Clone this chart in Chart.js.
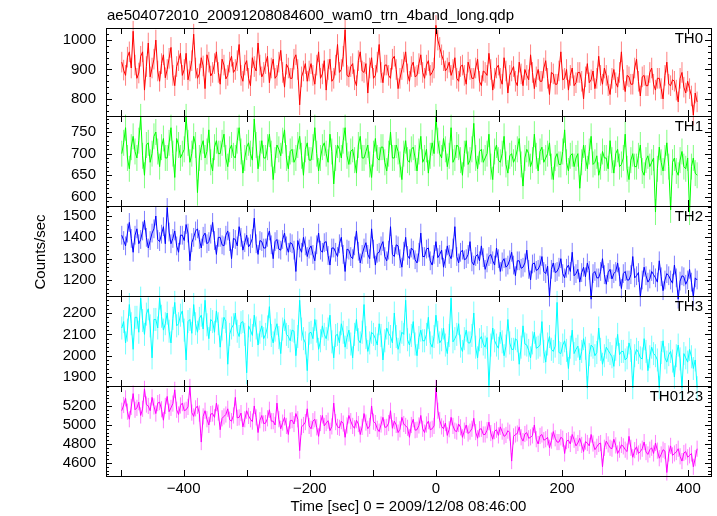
<!DOCTYPE html>
<html><head><meta charset="utf-8">
<script src="https://cdn.jsdelivr.net/npm/chart.js@4/dist/chart.umd.min.js"></script>
<style>
html,body{margin:0;padding:0;background:#fff;}
#wrap{position:relative;width:717px;height:516px;overflow:hidden;}
#wrap canvas{position:absolute;left:0;top:0;}
</style>
</head><body><div id="wrap"></div>
<script>
// ---- data (time bins: start -498 s, 3 s width) ----
const binStart = -498, binSize = 3;
const th0 = [
925,898,880,942,960,905,1030,915,870,888,945,960,830,910,990,875,905,935,1000,895,
860,920,950,872,900,938,975,880,845,910,930,955,880,900,955,865,895,930,1020,905,
870,885,940,912,835,950,925,878,890,920,960,890,850,935,915,868,880,925,945,890,
900,930,985,880,860,915,930,870,845,940,910,895,990,915,875,890,920,945,855,905,
935,870,880,925,965,890,840,918,905,870,870,935,950,900,780,875,895,920,860,895,
920,880,850,915,960,870,885,930,830,900,935,860,870,915,985,890,900,945,1035,880,
875,910,920,865,845,930,960,895,890,920,820,905,940,870,880,925,985,890,855,915,
915,880,870,935,945,900,835,870,900,925,960,885,860,910,925,875,880,920,950,890,
870,915,930,880,890,905,1050,1000,975,950,930,895,905,925,880,900,940,870,860,910,
915,880,850,925,900,870,870,905,935,860,845,895,890,880,955,900,830,870,905,915,
870,850,940,895,820,880,895,910,860,845,925,885,845,900,880,865,950,890,835,875,
900,860,860,905,930,870,815,890,885,850,850,895,960,865,870,900,830,880,905,845,
855,890,890,860,800,875,920,855,865,895,835,870,945,880,850,905,880,845,815,870,
900,855,840,890,960,865,825,880,875,850,850,905,935,860,810,875,880,845,845,890,
905,850,830,870,870,835,800,880,925,850,845,865,860,830,790,870,890,840,820,860,
835,810,745,820,790];
const th1 = [
700,725,760,690,665,715,740,705,690,730,785,695,650,720,725,680,700,740,750,705,
670,715,735,690,690,725,760,700,645,735,720,690,700,710,785,725,680,700,740,720,
610,690,715,730,690,705,755,680,660,715,730,700,700,725,745,690,670,710,720,695,
690,730,760,705,655,690,715,725,700,685,780,720,665,700,730,690,690,715,745,700,
640,685,720,710,695,730,755,690,665,705,710,680,690,720,740,695,650,710,725,685,
685,715,760,700,660,690,715,725,700,680,745,705,630,690,720,710,690,730,760,695,
675,705,710,685,655,720,740,690,690,705,720,675,645,700,735,690,685,715,715,680,
660,700,750,690,690,720,705,675,640,700,730,685,680,710,715,690,660,705,740,680,
690,710,655,695,725,700,785,730,700,690,735,710,670,695,760,680,690,720,715,685,
650,700,730,675,685,710,770,690,665,705,710,680,690,700,745,670,640,705,720,685,
680,700,740,675,655,695,700,680,690,710,735,675,625,690,710,700,670,685,745,695,
660,705,715,680,690,700,725,670,640,690,700,675,675,705,755,680,660,695,700,670,
690,700,620,680,720,690,665,705,740,675,680,695,650,670,705,690,690,665,730,685,
655,700,710,670,675,690,745,665,640,685,700,670,670,695,720,660,650,685,695,670,
680,690,565,665,715,680,660,690,725,670,570,680,690,660,650,685,705,670,665,690,
565,670,690,655,650];
const th2 = [
1410,1385,1360,1420,1470,1395,1330,1410,1440,1370,1390,1430,1480,1400,1350,1385,1420,1440,1500,1390,
1380,1415,1450,1370,1540,1425,1370,1395,1430,1360,1330,1410,1410,1385,1460,1420,1290,1375,1400,1430,
1440,1390,1350,1405,1420,1370,1380,1415,1470,1385,1320,1400,1400,1365,1360,1410,1430,1380,1300,1395,
1390,1360,1450,1400,1340,1375,1410,1355,1370,1395,1490,1370,1320,1385,1380,1350,1350,1400,1430,1365,
1300,1380,1390,1345,1340,1390,1420,1360,1330,1375,1370,1340,1240,1385,1350,1330,1400,1360,1310,1345,
1360,1320,1290,1365,1420,1340,1330,1375,1380,1315,1270,1350,1350,1330,1310,1370,1400,1320,1240,1345,
1340,1310,1300,1360,1430,1335,1280,1320,1350,1375,1320,1300,1440,1345,1270,1325,1330,1360,1380,1310,
1290,1340,1450,1320,1310,1365,1360,1300,1260,1335,1400,1315,1300,1350,1340,1295,1280,1330,1420,1310,
1310,1345,1350,1290,1270,1320,1380,1305,1320,1340,1260,1300,1360,1320,1300,1350,1450,1310,1280,1330,
1340,1295,1300,1320,1380,1285,1270,1310,1320,1290,1360,1305,1250,1280,1310,1320,1290,1270,1350,1300,
1240,1285,1300,1260,1270,1295,1330,1270,1220,1290,1290,1255,1260,1280,1340,1250,1200,1275,1280,1245,
1250,1270,1310,1240,1230,1265,1120,1250,1280,1235,1240,1260,1300,1230,1210,1255,1270,1240,1330,1220,
1230,1250,1190,1235,1260,1215,1280,1245,1110,1230,1240,1210,1210,1240,1300,1225,1180,1235,1250,1205,
1230,1240,1280,1215,1160,1230,1240,1200,1200,1225,1310,1210,1220,1235,1120,1200,1260,1220,1190,1205,
1240,1225,1210,1190,1290,1215,1150,1200,1230,1220,1200,1185,1270,1210,1110,1195,1220,1215,1180,1200,
1250,1190,1120,1210,1200];
const th3 = [
2130,2160,2060,2120,2240,2150,2030,2180,2180,2110,2270,2165,2100,2195,2220,2140,1990,2170,2170,2130,
2270,2185,2120,2150,2200,2115,2060,2175,2250,2140,2150,2190,2210,2120,1980,2160,2170,2105,2240,2150,
2110,2175,2190,2125,2260,2145,2080,2170,2160,2110,2210,2150,2040,2125,2180,2160,1960,2100,2130,2145,
2200,2115,2090,2155,2160,2100,1920,2140,2120,2095,2190,2130,2050,2110,2140,2080,2100,2135,2230,2095,
2060,2120,2150,2085,2010,2125,2170,2100,2090,2070,2120,2115,2000,2090,2260,2125,2080,2060,1930,2105,
2110,2080,2170,2115,2030,2070,2140,2100,2080,2125,2190,2065,1990,2095,2100,2060,2150,2110,2040,2085,
2120,2055,1990,2100,2170,2075,2060,2110,2240,2085,2020,2060,2110,2100,2080,2050,2150,2095,1980,2070,
2130,2105,2090,2060,2200,2090,2030,2065,2110,2100,2260,2075,2050,2095,2160,2055,2000,2085,2120,2070,
2070,2100,2180,2060,2040,2090,2190,2110,2060,2075,2130,2050,2010,2095,2270,2065,2080,2100,2150,2045,
2020,2080,2120,2060,2060,2095,2200,2040,1990,2075,2090,2055,2040,2085,1860,2050,2130,2070,2050,2035,
2110,2065,2000,2045,2170,2060,2030,2030,2080,2070,1960,2040,2140,2055,2050,2025,1990,2060,2110,2035,
2040,2050,2160,2020,1970,2055,2090,2030,2020,2045,2250,2015,2010,2050,2070,2025,1940,2040,2120,2010,
2030,2045,1980,2020,2080,2035,1850,2005,2050,2040,2000,2015,2130,2030,1960,2000,2040,2025,2010,1995,
1950,2030,2100,2005,2020,2020,1980,1990,2060,2025,1850,2000,2030,2015,1990,1985,2080,2020,1930,1995,
2040,2010,2000,1980,1850,2015,2070,1990,1970,2005,2020,1975,1900,2000,2050,1985,1850,2010,1990,1970,
2030,1995,1940,1980,1850];
const th0123 = [
5150,5210,5280,5140,5060,5190,5330,5160,5180,5240,5100,5170,5380,5215,5200,5150,5290,5195,5120,5230,
5240,5165,5050,5200,5300,5140,5180,5225,5370,5160,5110,5205,5230,5150,5160,5190,5400,5130,5090,5175,
5200,5120,4820,5090,5150,5060,5000,5115,5120,5080,5230,5130,4950,5070,5090,5110,5170,5055,5040,5100,
5290,5075,5080,5125,4980,5060,5150,5095,5060,5035,5200,5080,4920,5050,5100,5015,5020,5070,5160,5040,
5040,5000,5230,5060,4960,5025,5080,4990,4900,5045,5050,5010,5120,5060,4730,4980,5000,5030,5170,4990,
4960,5040,5060,4975,4880,5020,5100,4990,5020,5045,4940,4985,5230,5030,4980,4970,5040,5015,4870,4995,
5100,5040,4990,4965,5050,5010,4900,4980,5120,5025,4960,4990,5200,5035,5020,4960,4930,5005,5080,4975,
4980,5020,5150,4965,5040,5000,4920,4955,5080,5010,4990,4970,4870,5000,5060,4945,4950,4995,5100,4960,
4920,5005,5040,4950,4960,4990,5390,5150,5050,4985,4960,5020,4890,4955,5080,4990,4940,4930,5010,4975,
4870,4940,5000,4910,4930,4960,5070,4925,4860,4955,4960,4900,4900,4945,5030,4915,4850,4935,4950,4890,
4980,4930,4880,4895,4940,4920,4620,4880,4900,4910,4980,4870,4830,4905,4920,4860,4870,4890,5000,4850,
4800,4885,4900,4840,4850,4870,4760,4835,4930,4860,4820,4820,4870,4855,4700,4830,4840,4800,4900,4845,
4780,4810,4860,4790,4720,4825,4810,4780,4900,4805,4740,4770,4800,4810,4560,4760,4830,4795,4760,4750,
4850,4785,4700,4740,4790,4775,4740,4720,4880,4760,4660,4735,4770,4700,4720,4750,4820,4715,4690,4740,
4760,4700,4810,4730,4650,4690,4740,4725,4500,4700,4780,4680,4700,4715,4750,4670,4620,4705,4720,4660,
4680,4700,4560,4650,4750];
const errSizes = [35, 30, 44, 54, 85];

const panelNames = ['TH0', 'TH1', 'TH2', 'TH3', 'TH0123'];
const yMins = [742, 579, 1125, 1858, 4463];
const yMaxs = [1041, 787, 1547, 2280, 5410];
const yTickLabels = [[800, 900, 1000], [600, 650, 700, 750], [1200, 1300, 1400, 1500], [1900, 2000, 2100, 2200], [4600, 4800, 5000, 5200]];
const yMinorSteps = [20, 10, 20, 20, 40];
const xMin = -523, xMax = 436;
const xTickLabels = [-400, -200, 0, 200, 400];
const xTickMarks = [-500, -400, -300, -200, -100, 0, 100, 200, 300, 400];
const chartTitle = 'ae504072010_20091208084600_wam0_trn_4band_long.qdp';
const xTitle = 'Time [sec] 0 = 2009/12/08 08:46:00';
const yTitle = 'Counts/sec';

// ---- styles / layout ----
const series = [th0, th1, th2, th3, th0123];
const lineColors = ['#ff0000', '#00ff00', '#0000ff', '#00ffff', '#ff00ff'];
const errColors = ['rgba(255,0,0,0.5)', 'rgba(0,255,0,0.5)', 'rgba(0,0,255,0.5)', 'rgba(0,255,255,0.55)', 'rgba(255,0,255,0.5)'];
const W = 717, H = 516, LEFT = 106, RIGHT = 711;
const panelTop = [28, 116, 206, 296, 386];
const panelBottom = [116, 206, 296, 386, 476];
const FONT = '"Liberation Sans", Arial, Helvetica, sans-serif';
Chart.defaults.font.family = FONT;
Chart.defaults.font.size = 15;
Chart.defaults.color = '#000';

function fmtX(v) { return v < 0 ? '\u2212' + Math.abs(v) : String(v); }

function makePanelPlugin(p) {
  return {
    id: 'panel' + p,
    beforeDatasetsDraw(chart) {
      const ctx = chart.ctx, xs = chart.scales.x, ys = chart.scales.y;
      const e = errSizes[p];
      ctx.save();
      ctx.strokeStyle = errColors[p];
      ctx.lineWidth = 1;
      ctx.beginPath();
      series[p].forEach((v, i) => {
        const px = xs.getPixelForValue(binStart + i * binSize);
        ctx.moveTo(px, ys.getPixelForValue(v + e));
        ctx.lineTo(px, ys.getPixelForValue(v - e));
      });
      ctx.stroke();
      ctx.restore();
    },
    afterDraw(chart) {
      const ctx = chart.ctx, a = chart.chartArea, xs = chart.scales.x, ys = chart.scales.y;
      ctx.save();
      ctx.strokeStyle = '#000';
      ctx.lineWidth = 1;
      ctx.strokeRect(a.left + 0.5, a.top + 0.5, a.right - a.left, a.bottom - a.top);
      ctx.beginPath();
      yTickLabels[p].forEach(v => {
        const py = Math.round(ys.getPixelForValue(v)) + 0.5;
        ctx.moveTo(a.left, py); ctx.lineTo(a.left + 6, py);
        ctx.moveTo(a.right, py); ctx.lineTo(a.right - 6, py);
      });
      const st = yMinorSteps[p];
      for (let v = Math.ceil(yMins[p] / st) * st; v <= yMaxs[p]; v += st) {
        if (yTickLabels[p].includes(v)) continue;
        const py = Math.round(ys.getPixelForValue(v)) + 0.5;
        ctx.moveTo(a.left, py); ctx.lineTo(a.left + 3, py);
        ctx.moveTo(a.right, py); ctx.lineTo(a.right - 3, py);
      }
      xTickMarks.forEach(v => {
        const px = Math.round(xs.getPixelForValue(v)) + 0.5;
        ctx.moveTo(px, a.top); ctx.lineTo(px, a.top + 6);
        ctx.moveTo(px, a.bottom); ctx.lineTo(px, a.bottom - 6);
      });
      ctx.stroke();
      ctx.fillStyle = '#000';
      ctx.font = '15px ' + FONT;
      ctx.textAlign = 'right';
      ctx.textBaseline = 'middle';
      ctx.fillText(panelNames[p], a.right - 8, a.top + 11);
      if (p === 0) {
        ctx.textAlign = 'left';
        ctx.textBaseline = 'alphabetic';
        ctx.fillText(chartTitle, a.left + 1, 20);
      }
      if (p === 4) {
        ctx.translate(41, (panelTop[0] + panelBottom[4]) / 2);
        ctx.rotate(-Math.PI / 2);
        ctx.textAlign = 'center';
        ctx.textBaseline = 'middle';
        ctx.fillText(yTitle, 0, 0);
      }
      ctx.restore();
    }
  };
}

const wrap = document.getElementById('wrap');
for (let p = 0; p < 5; p++) {
  const cv = document.createElement('canvas');
  cv.width = W; cv.height = H;
  wrap.appendChild(cv);
  const last = p === 4;
  const pts = series[p].map((v, i) => ({ x: binStart + i * binSize, y: v }));
  new Chart(cv, {
    type: 'line',
    data: { datasets: [{ data: pts, borderColor: lineColors[p], borderWidth: 1, pointRadius: 0, tension: 0, clip: false, fill: false }] },
    options: {
      responsive: false, animation: false, devicePixelRatio: 1,
      layout: { padding: { left: 0, right: W - RIGHT, top: panelTop[p], bottom: last ? 0 : H - panelBottom[p] } },
      plugins: { legend: { display: false }, tooltip: { enabled: false }, title: { display: false } },
      scales: {
        x: {
          type: 'linear', min: xMin, max: xMax, display: last,
          grid: { display: false, drawTicks: false }, border: { display: false },
          afterBuildTicks: s => { s.ticks = xTickLabels.map(v => ({ value: v })); },
          afterFit: s => { if (last) s.height = H - panelBottom[4]; },
          ticks: { padding: 4, maxRotation: 0, autoSkip: false, callback: v => fmtX(v) },
          title: { display: true, text: xTitle, padding: { top: 0, bottom: 0 } }
        },
        y: {
          type: 'linear', min: yMins[p], max: yMaxs[p],
          grid: { display: false, drawTicks: false }, border: { display: false },
          afterBuildTicks: s => { s.ticks = yTickLabels[p].map(v => ({ value: v })); },
          afterFit: s => { s.width = LEFT; },
          ticks: { padding: 10, autoSkip: false, callback: v => String(v) }
        }
      }
    },
    plugins: [makePanelPlugin(p)]
  });
}
</script>
</body></html>
